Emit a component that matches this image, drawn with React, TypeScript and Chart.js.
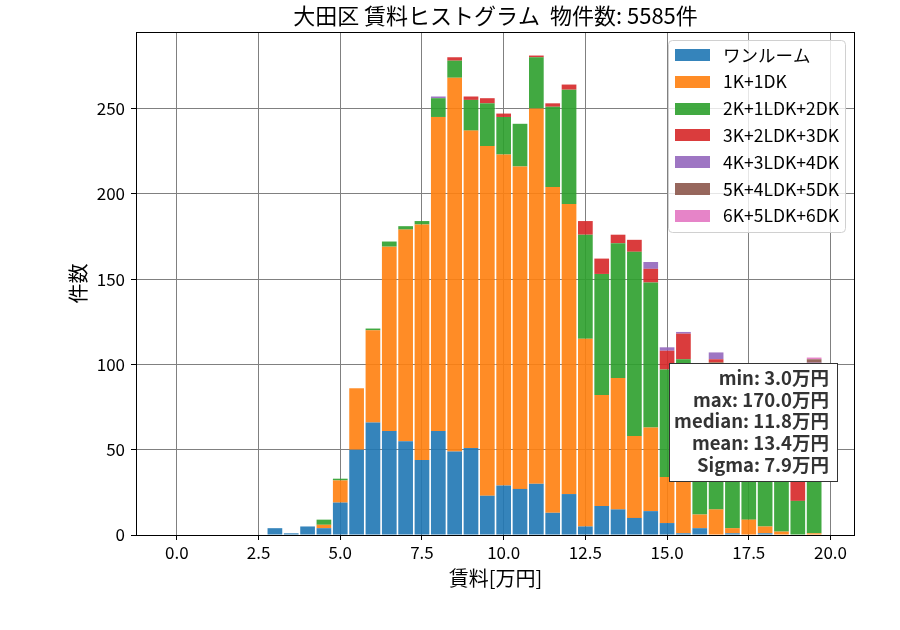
import React, { useEffect, useRef } from 'react';
import { Chart, registerables } from 'chart.js';

Chart.register(...registerables);

const binCenters = [0, 0.5, 1, 1.5, 2, 2.5, 3, 3.5, 4, 4.5, 5, 5.5, 6, 6.5, 7, 7.5, 8, 8.5, 9, 9.5, 10, 10.5, 11, 11.5, 12, 12.5, 13, 13.5, 14, 14.5, 15, 15.5, 16, 16.5, 17, 17.5, 18, 18.5, 19, 19.5];

const oneRoom = [0, 0, 0, 0, 0, 0, 4, 1, 5, 4, 19, 50, 66, 61, 55, 44, 61, 49, 51, 23, 29, 27, 30, 13, 24, 5, 17, 15, 10, 14, 7, 1, 4, 0, 1, 0, 1, 0, 0, 0];
const k1dk1 = [0, 0, 0, 0, 0, 0, 0, 0, 0, 2, 13, 36, 54, 108, 124, 138, 184, 219, 186, 205, 194, 189, 220, 191, 170, 110, 65, 77, 48, 49, 27, 58, 8, 15, 3, 9, 4, 2, 0, 1];
const k2ldk2 = [0, 0, 0, 0, 0, 0, 0, 0, 0, 3, 1, 0, 1, 3, 2, 2, 11, 10, 18, 25, 22, 25, 30, 47, 67, 61, 71, 79, 108, 85, 63, 44, 76, 86, 78, 68, 66, 30, 20, 91];
const k3ldk3 = [0, 0, 0, 0, 0, 0, 0, 0, 0, 0, 0, 0, 0, 0, 0, 0, 0, 2, 2, 3, 2, 0, 1, 2, 3, 8, 9, 5, 7, 8, 11, 15, 7, 2, 6, 5, 6, 22, 24, 6];
const k4ldk4 = [0, 0, 0, 0, 0, 0, 0, 0, 0, 0, 0, 0, 0, 0, 0, 0, 1, 0, 0, 0, 0, 0, 0, 0, 0, 0, 0, 0, 0, 4, 2, 1, 1, 4, 0, 0, 0, 0, 0, 3];
const k5ldk5 = [0, 0, 0, 0, 0, 0, 0, 0, 0, 0, 0, 0, 0, 0, 0, 0, 0, 0, 0, 0, 0, 0, 0, 0, 0, 0, 0, 0, 0, 0, 0, 0, 0, 0, 0, 0, 0, 0, 0, 2];
const k6ldk6 = [0, 0, 0, 0, 0, 0, 0, 0, 0, 0, 0, 0, 0, 0, 0, 0, 0, 0, 0, 0, 0, 0, 0, 0, 0, 0, 0, 0, 0, 0, 0, 0, 0, 0, 0, 0, 0, 0, 0, 1];

const seriesValues = [oneRoom, k1dk1, k2ldk2, k3ldk3, k4ldk4, k5ldk5, k6ldk6];
const seriesLabels = ['ワンルーム', '1K+1DK', '2K+1LDK+2DK', '3K+2LDK+3DK', '4K+3LDK+4DK', '5K+4LDK+5DK', '6K+5LDK+6DK'];
const seriesColors = [
  'rgba(31,119,180,0.9)',
  'rgba(255,127,14,0.9)',
  'rgba(44,160,44,0.9)',
  'rgba(214,39,40,0.9)',
  'rgba(148,103,189,0.9)',
  'rgba(140,86,75,0.9)',
  'rgba(227,119,194,0.9)',
];

const xTickValues = [0, 2.5, 5, 7.5, 10, 12.5, 15, 17.5, 20];
const yTickValues = [0, 50, 100, 150, 200, 250];

const titleText = '大田区 賃料ヒストグラム  物件数: 5585件';
const xAxisLabel = '賃料[万円]';
const yAxisLabel = '件数';
const statsLines = ['min: 3.0万円', 'max: 170.0万円', 'median: 11.8万円', 'mean: 13.4万円', 'Sigma: 7.9万円'];

const FONT = "'Noto Sans CJK JP', 'Noto Sans', sans-serif";

const overlayPlugin = {
  id: 'overlay',
  afterDraw(chart: any) {
    const ctx = chart.ctx as CanvasRenderingContext2D;
    const a = chart.chartArea;
    ctx.save();
    // spines
    ctx.strokeStyle = '#000';
    ctx.lineWidth = 1;
    ctx.strokeRect(Math.round(a.left) + 0.5, Math.round(a.top) + 0.5, Math.round(a.right - a.left) - 1, Math.round(a.bottom - a.top));

    // title
    ctx.fillStyle = '#000';
    ctx.font = `22px ${FONT}`;
    ctx.textAlign = 'center';
    ctx.textBaseline = 'middle';
    ctx.fillText(titleText, (a.left + a.right) / 2, 16);

    // axis labels
    ctx.font = `20px ${FONT}`;
    ctx.fillText(xAxisLabel, (a.left + a.right) / 2, 578);
    ctx.save();
    ctx.translate(78, (a.top + a.bottom) / 2);
    ctx.rotate(-Math.PI / 2);
    ctx.fillText(yAxisLabel, 0, 0);
    ctx.restore();

    // legend
    const lx = 668.5, ly = 40.5, lw = 177, lh = 192, r = 4;
    ctx.beginPath();
    ctx.moveTo(lx + r, ly);
    ctx.lineTo(lx + lw - r, ly);
    ctx.arcTo(lx + lw, ly, lx + lw, ly + r, r);
    ctx.lineTo(lx + lw, ly + lh - r);
    ctx.arcTo(lx + lw, ly + lh, lx + lw - r, ly + lh, r);
    ctx.lineTo(lx + r, ly + lh);
    ctx.arcTo(lx, ly + lh, lx, ly + lh - r, r);
    ctx.lineTo(lx, ly + r);
    ctx.arcTo(lx, ly, lx + r, ly, r);
    ctx.closePath();
    ctx.fillStyle = 'rgba(255,255,255,0.8)';
    ctx.fill();
    ctx.strokeStyle = '#d0d0d0';
    ctx.stroke();
    ctx.font = `17.5px ${FONT}`;
    ctx.textAlign = 'left';
    ctx.textBaseline = 'middle';
    seriesLabels.forEach((lab, i) => {
      const cy = 55 + i * 26.8;
      ctx.fillStyle = seriesColors[i];
      ctx.fillRect(675, Math.round(cy - 6), 35, 12);
      ctx.fillStyle = '#000';
      ctx.fillText(lab, 723, cy);
    });

    // stats box
    const sx = 669.5, sy = 363.5, sw = 168, sh = 118;
    ctx.fillStyle = '#fff';
    ctx.fillRect(sx, sy, sw, sh);
    ctx.strokeStyle = '#333';
    ctx.strokeRect(sx, sy, sw, sh);
    ctx.font = `bold 18.5px ${FONT}`;
    ctx.fillStyle = '#333';
    ctx.textAlign = 'right';
    statsLines.forEach((t, i) => {
      ctx.fillText(t, 829, 378 + i * 21.7);
    });
    ctx.restore();
  },
};

export default function App() {
  const ref = useRef<HTMLCanvasElement | null>(null);
  useEffect(() => {
    document.body.style.margin = '0';
    const canvas = ref.current;
    if (!canvas) return;
    const datasets = seriesValues.map((vals, i) => ({
      label: seriesLabels[i],
      data: binCenters.map((c, j) => ({ x: c, y: vals[j] })),
      backgroundColor: seriesColors[i],
      borderWidth: 0,
      barPercentage: 0.9,
      categoryPercentage: 1.0,
    }));
    const chart = new Chart(canvas, {
      type: 'bar',
      data: { datasets },
      options: {
        responsive: false,
        animation: false,
        devicePixelRatio: 1,
        layout: { padding: { left: 0, right: 45, top: 32, bottom: 0 } },
        plugins: { legend: { display: false }, title: { display: false }, tooltip: { enabled: false } },
        scales: {
          x: {
            type: 'linear',
            stacked: true,
            offset: false,
            min: -1.25,
            max: 20.75,
            z: 1,
            afterBuildTicks: (s: any) => { s.ticks = xTickValues.map((v) => ({ value: v })); },
            afterFit: (s: any) => { s.height = 95; },
            grid: { offset: false, color: '#808080', lineWidth: 1, drawTicks: true, tickLength: 5, tickColor: '#000' },
            border: { display: false },
            ticks: {
              font: { family: FONT, size: 17 },
              color: '#000',
              padding: 2,
              maxRotation: 0,
              autoSkip: false,
              callback: (v: any) => Number(v).toFixed(1),
            },
          },
          y: {
            type: 'linear',
            stacked: true,
            min: 0,
            max: 294.8,
            z: 1,
            afterBuildTicks: (s: any) => { s.ticks = yTickValues.map((v) => ({ value: v })); },
            afterFit: (s: any) => { s.width = 136; },
            grid: { color: '#808080', lineWidth: 1, drawTicks: true, tickLength: 5, tickColor: '#000' },
            border: { display: false },
            ticks: {
              font: { family: FONT, size: 17 },
              color: '#000',
              padding: 6,
              autoSkip: false,
              callback: (v: any) => String(v),
            },
          },
        },
      },
      plugins: [overlayPlugin],
    });
    return () => chart.destroy();
  }, []);
  return (
    <div style={{ width: 900, height: 630 }}>
      <canvas ref={ref} width={900} height={630} style={{ width: 900, height: 630, display: 'block' }} />
    </div>
  );
}
